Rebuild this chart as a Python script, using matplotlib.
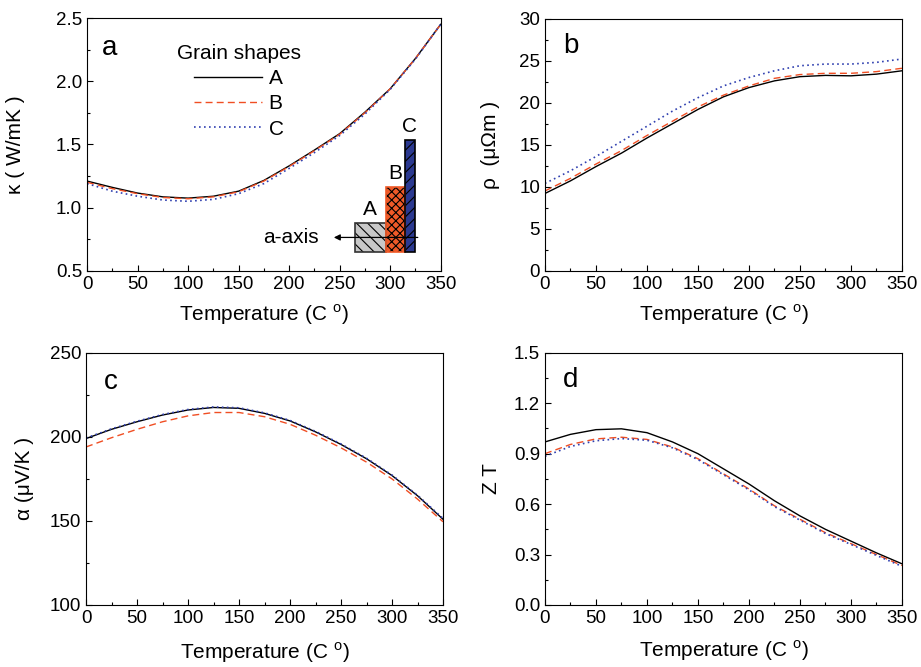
import numpy as np
import matplotlib.pyplot as plt
from matplotlib.patches import Rectangle
from matplotlib.ticker import MultipleLocator

plt.rcParams['font.family'] = ['Liberation Sans', 'DejaVu Sans']
plt.rcParams['mathtext.fontset'] = 'custom'
plt.rcParams['mathtext.rm'] = 'Liberation Sans'
plt.rcParams['hatch.linewidth'] = 0.8

temp = [0, 25, 50, 75, 100, 125, 150, 175, 200, 225, 250, 275, 300, 325, 350]
labels = ["A", "B", "C"]

kappa_a = [1.21, 1.16, 1.115, 1.085, 1.075, 1.09, 1.13, 1.215, 1.33, 1.455, 1.585, 1.755, 1.94, 2.18, 2.45]
kappa_b = [1.20, 1.15, 1.11, 1.08, 1.07, 1.085, 1.125, 1.21, 1.325, 1.45, 1.58, 1.75, 1.94, 2.18, 2.45]
kappa_c = [1.19, 1.13, 1.09, 1.06, 1.05, 1.065, 1.11, 1.19, 1.31, 1.435, 1.57, 1.74, 1.935, 2.175, 2.45]

rho_a = [9.2, 10.7, 12.4, 14.0, 15.8, 17.5, 19.2, 20.7, 21.8, 22.6, 23.1, 23.25, 23.2, 23.4, 23.8]
rho_b = [9.5, 11.0, 12.7, 14.3, 16.1, 17.8, 19.5, 20.9, 22.0, 22.9, 23.35, 23.5, 23.5, 23.7, 24.1]
rho_c = [10.4, 11.9, 13.6, 15.4, 17.2, 19.0, 20.6, 22.0, 23.0, 23.8, 24.4, 24.6, 24.6, 24.8, 25.2]

alpha_a = [199, 204.5, 209, 213, 216, 217.5, 217, 214, 209.5, 203, 195.5, 187, 177, 165, 151]
alpha_b = [194, 199.5, 204.5, 209, 212.5, 214.5, 214.5, 212, 207.5, 201, 193.5, 185, 175, 163, 149.5]
alpha_c = [199.3, 204.8, 209.3, 213.3, 216.3, 217.8, 217.3, 214.3, 209.8, 203.3, 195.8, 187.3, 177.3, 165.3, 151.5]

zt_a = [0.97, 1.015, 1.043, 1.048, 1.025, 0.97, 0.90, 0.81, 0.72, 0.62, 0.53, 0.45, 0.38, 0.31, 0.245]
zt_b = [0.90, 0.955, 0.988, 0.998, 0.985, 0.94, 0.87, 0.78, 0.69, 0.59, 0.51, 0.43, 0.365, 0.30, 0.235]
zt_c = [0.885, 0.943, 0.977, 0.99, 0.98, 0.935, 0.865, 0.775, 0.685, 0.585, 0.505, 0.425, 0.36, 0.295, 0.23]

styles = [dict(color="black", ls="-", lw=1.0),
          dict(color="#f04e23", ls=(0, (5, 3)), lw=1.0),
          dict(color="#3040b0", ls=(0, (1, 2)), lw=1.2)]

xlabel = "Temperature (C $^{\\mathrm{o}}$)"

fig = plt.figure(figsize=(9.21, 6.67), dpi=100)
ax_a = fig.add_axes([0.0945, 0.594, 0.384, 0.379])
ax_b = fig.add_axes([0.5917, 0.594, 0.3876, 0.378])
ax_c = fig.add_axes([0.0934, 0.093, 0.3876, 0.378])
ax_d = fig.add_axes([0.5917, 0.093, 0.3876, 0.378])

panels = [
    (ax_a, [kappa_a, kappa_b, kappa_c], (0.5, 2.5), 0.5, "κ ( W/mK )", 22, "a", 0.042, 0.854, 7),
    (ax_b, [rho_a, rho_b, rho_c], (0, 30), 5, "ρ  (μΩm )", 14, "b", 0.05, 0.865, 7),
    (ax_c, [alpha_a, alpha_b, alpha_c], (100, 250), 50, "α (μV/K )", 11, "c", 0.05, 0.857, 10),
    (ax_d, [zt_a, zt_b, zt_c], (0, 1.5), 0.3, "Z T", 9, "d", 0.05, 0.865, 8),
]

for ax, series, ylim, ystep, ylab, ypad, letter, lx, ly, xpad in panels:
    for vals, lab, st in zip(series, labels, styles):
        ax.plot(temp, vals, label=lab, **st)
    ax.set_xlim(0, 350)
    ax.set_ylim(*ylim)
    ax.xaxis.set_major_locator(MultipleLocator(50))
    ax.xaxis.set_minor_locator(MultipleLocator(25))
    ax.yaxis.set_major_locator(MultipleLocator(ystep))
    ax.yaxis.set_minor_locator(MultipleLocator(ystep / 2))
    ax.tick_params(which="both", direction="in", top=False, right=False, labelsize=13.5)
    ax.tick_params(which="major", length=4, width=0.8)
    ax.tick_params(which="minor", length=2.5, width=0.8)
    ax.set_xlabel(xlabel, fontsize=15, labelpad=xpad)
    ax.set_ylabel(ylab, fontsize=15, labelpad=ypad)
    ax.text(lx, ly, letter, transform=ax.transAxes, fontsize=20, va="baseline")

ax_d.yaxis.set_major_formatter(plt.FormatStrFormatter("%.1f"))
ax_a.yaxis.set_major_formatter(plt.FormatStrFormatter("%.1f"))

leg = ax_a.legend(title="Grain shapes", loc="upper left", bbox_to_anchor=(0.212, 0.955),
                  frameon=False, handlelength=3.3, handletextpad=0.3, labelspacing=0.3,
                  fontsize=15, title_fontsize=15, borderpad=0.2)

# grain-shape schematic
tr = ax_a.transAxes
boxes = [(0.757, 0.0876, 0.113, "#c8c8c8", "\\\\\\", "#333333", "A"),
         (0.845, 0.0537, 0.257, "#f05a28", "xxxx", "#f05a28", "B"),
         (0.898, 0.0282, 0.441, "#2b3990", "///", "black", "C")]
for x0, w, h, fc, hatch, ec, lab in boxes:
    # hatch drawn in black, outline drawn on top in the edge colour
    ax_a.add_patch(Rectangle((x0, 0.076), w, h, transform=tr, facecolor=fc,
                             edgecolor="black", hatch=hatch, lw=0, zorder=3))
    ax_a.add_patch(Rectangle((x0, 0.076), w, h, transform=tr, fill=False,
                             edgecolor=ec, lw=1.2, zorder=3.5))
    ax_a.text(x0 + w / 2, 0.076 + h + 0.015, lab, transform=tr, fontsize=15,
              ha="center", va="bottom")
ax_a.annotate("", xy=(0.69, 0.132), xytext=(0.943, 0.132), xycoords=tr, textcoords=tr,
              arrowprops=dict(arrowstyle="-|>", color="black", lw=0.9, mutation_scale=9),
              zorder=4)
ax_a.text(0.655, 0.132, "a-axis", transform=tr, fontsize=15, ha="right", va="center")

fig.savefig("out.png", dpi=100)
